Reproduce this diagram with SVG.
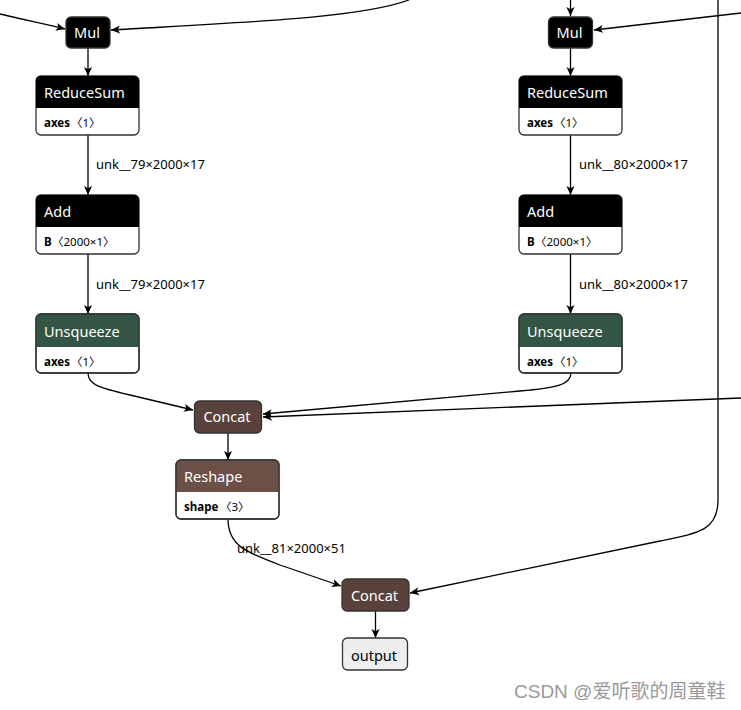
<svg xmlns="http://www.w3.org/2000/svg" width="741" height="710" viewBox="0 0 741 710">
<defs>
<marker id="arr" viewBox="0 0 10 10" refX="10" refY="5" markerWidth="9" markerHeight="9" markerUnits="userSpaceOnUse" orient="auto">
<path d="M0,0.5 L10,5 L0,9.5 L2.5,5 z" fill="#000"/>
</marker>
<style>
.e{fill:none;stroke:#000;stroke-width:1.3;marker-end:url(#arr)}
.nb{fill:#fff;stroke:#333;stroke-width:1.3}
.ht{font-family:"Noto Sans","DejaVu Sans",sans-serif;font-size:14.5px;fill:#fff}
.ak{font-family:"Noto Sans","DejaVu Sans",sans-serif;font-size:11.5px;font-weight:bold;fill:#000}
.av{font-family:"Noto Sans","Noto Sans CJK SC",sans-serif;font-size:11.5px;fill:#000}
.lb{font-family:"Noto Sans","DejaVu Sans",sans-serif;font-size:13px;fill:#000}
</style>
</defs>
<rect width="741" height="710" fill="#fff"/>
<g id="edges">
<path class="e" d="M0,14 C25,20 45,24 65,29"/>
<path class="e" d="M409,0 C360,18 250,22 111,30"/>
<path class="e" d="M570.5,0 L570.5,16"/>
<path class="e" d="M741,13 L594,30"/>
<path class="e" d="M718,0 L718,500 C718,530 700,533 660,541 L410,593"/>
<path class="e" d="M88,48 L88,76"/>
<path class="e" d="M88,135 L88,195"/>
<path class="e" d="M88,254 L88,314"/>
<path class="e" d="M570.5,48 L570.5,76"/>
<path class="e" d="M570.5,135 L570.5,195"/>
<path class="e" d="M570.5,254 L570.5,314"/>
<path class="e" d="M88,373 C88,385 100,388 130,395 L193,410"/>
<path class="e" d="M571,373 C571,385 555,388 520,391 L263,414"/>
<path class="e" d="M741,398 L263,417"/>
<path class="e" d="M228,433 L228,460"/>
<path class="e" d="M228,519 C228,545 245,552 280,565 L341,586"/>
<path class="e" d="M375.5,611 L375.5,638"/>
<text class="lb" x="96" y="169">unk__79×2000×17</text>
<text class="lb" x="96" y="289">unk__79×2000×17</text>
<text class="lb" x="579" y="169">unk__80×2000×17</text>
<text class="lb" x="579" y="289">unk__80×2000×17</text>
<text class="lb" x="237" y="553">unk__81×2000×51</text>
</g>
<g id="mul1">
<rect x="66" y="17" width="44" height="31" rx="5" fill="#000" stroke="#333" stroke-width="1.3"/>
<text class="ht" x="87" y="38" text-anchor="middle">Mul</text>
</g>
<g id="mul2">
<rect x="548.5" y="17" width="44" height="31" rx="5" fill="#000" stroke="#333" stroke-width="1.3"/>
<text class="ht" x="569.5" y="38" text-anchor="middle">Mul</text>
</g>
<g id="reducesum1">
<rect class="nb" x="36" y="76" width="103" height="59" rx="5"/>
<path d="M36,108 L36,81 Q36,76 41,76 L134,76 Q139,76 139,81 L139,108 Z" fill="#000"/>
<text class="ht" x="44" y="98">ReduceSum</text>
<text class="ak" x="44" y="127">axes</text><text class="av" x="71" y="127">〈1〉</text>
</g>
<g id="reducesum2">
<rect class="nb" x="519" y="76" width="103" height="59" rx="5"/>
<path d="M519,108 L519,81 Q519,76 524,76 L617,76 Q622,76 622,81 L622,108 Z" fill="#000"/>
<text class="ht" x="527" y="98">ReduceSum</text>
<text class="ak" x="527" y="127">axes</text><text class="av" x="554" y="127">〈1〉</text>
</g>
<g id="add1">
<rect class="nb" x="36" y="195" width="103" height="59" rx="5"/>
<path d="M36,227 L36,200 Q36,195 41,195 L134,195 Q139,195 139,200 L139,227 Z" fill="#000"/>
<text class="ht" x="44" y="217">Add</text>
<text class="ak" x="44" y="246">B</text><text class="av" x="52" y="246">〈2000×1〉</text>
</g>
<g id="add2">
<rect class="nb" x="519" y="195" width="103" height="59" rx="5"/>
<path d="M519,227 L519,200 Q519,195 524,195 L617,195 Q622,195 622,200 L622,227 Z" fill="#000"/>
<text class="ht" x="527" y="217">Add</text>
<text class="ak" x="527" y="246">B</text><text class="av" x="535" y="246">〈2000×1〉</text>
</g>
<g id="unsqueeze1">
<rect class="nb" x="36" y="314" width="103" height="59" rx="5"/>
<path d="M36,347 L36,319 Q36,314 41,314 L134,314 Q139,314 139,319 L139,347 Z" fill="#335544"/>
<rect x="36" y="314" width="103" height="59" rx="5" fill="none" stroke="#333" stroke-width="1.3"/>
<text class="ht" x="44" y="337">Unsqueeze</text>
<text class="ak" x="44" y="366">axes</text><text class="av" x="71" y="366">〈1〉</text>
</g>
<g id="unsqueeze2">
<rect class="nb" x="519" y="314" width="103" height="59" rx="5"/>
<path d="M519,347 L519,319 Q519,314 524,314 L617,314 Q622,314 622,319 L622,347 Z" fill="#335544"/>
<rect x="519" y="314" width="103" height="59" rx="5" fill="none" stroke="#333" stroke-width="1.3"/>
<text class="ht" x="527" y="337">Unsqueeze</text>
<text class="ak" x="527" y="366">axes</text><text class="av" x="554" y="366">〈1〉</text>
</g>
<g id="concat1">
<rect x="194.5" y="401" width="67" height="32" rx="5" fill="#59423b" stroke="#333" stroke-width="1.3"/>
<text class="ht" x="227" y="422" text-anchor="middle">Concat</text>
</g>
<g id="reshape">
<rect class="nb" x="176" y="460" width="103" height="59" rx="5"/>
<path d="M176,492 L176,465 Q176,460 181,460 L274,460 Q279,460 279,465 L279,492 Z" fill="#6c4f47"/>
<rect x="176" y="460" width="103" height="59" rx="5" fill="none" stroke="#333" stroke-width="1.3"/>
<text class="ht" x="184" y="482">Reshape</text>
<text class="ak" x="184" y="511">shape</text><text class="av" x="220" y="511">〈3〉</text>
</g>
<g id="concat2">
<rect x="342" y="579" width="67" height="32" rx="5" fill="#59423b" stroke="#333" stroke-width="1.3"/>
<text class="ht" x="374.5" y="601" text-anchor="middle">Concat</text>
</g>
<g id="output">
<rect x="342.5" y="638" width="65" height="32" rx="5" fill="#eee" stroke="#333" stroke-width="1.3"/>
<text class="ht" x="374" y="661" text-anchor="middle" style="fill:#000">output</text>
</g>
<text x="514" y="698" font-family="'Liberation Sans','Noto Sans CJK SC',sans-serif" font-size="19" fill="#999">CSDN @爱听歌的周童鞋</text>
</svg>
